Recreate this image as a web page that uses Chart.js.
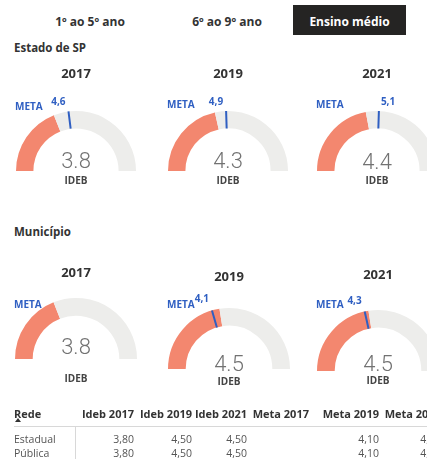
<!DOCTYPE html>
<html lang="pt-BR">
<head>
<meta charset="utf-8">
<title>Ideb - Ensino médio</title>
<script src="https://cdn.jsdelivr.net/npm/chart.js@4.4.1/dist/chart.umd.min.js"></script>
<style>
  html, body { margin: 0; padding: 0; background: #fff; }
  body { width: 427px; height: 459px; position: relative; overflow: hidden; font-family: "Open Sans", "Noto Sans", sans-serif; color: #333; }
  .tab { position: absolute; top: 5px; height: 30px; line-height: 33px; font-size: 12px; font-weight: 700; text-align: center; color: #333; }
  .tab.active { background: #252423; color: #fff; }
  .section { position: absolute; left: 14px; font-size: 11.5px; font-weight: 700; color: #333; }
  canvas.gauge { position: absolute; }
  table.rede { position: absolute; left: 14px; top: 406px; border-collapse: collapse; white-space: nowrap; }
  table.rede th { font-size: 11px; font-weight: 700; color: #333; text-align: right; padding: 0; height: 20px; line-height: 16px; vertical-align: top; }
  table.rede th:first-child { text-align: left; }
  table.rede td { font-size: 10.5px; color: #555; text-align: right; height: 14px; padding: 0; line-height: 14px; }
  table.rede tbody tr:first-child td { padding-top: 5px; }
  table.rede td:first-child { text-align: left; border-right: 1px solid #d8d8d8; }
  table.rede thead tr { border-bottom: 1px solid #d8d8d8; }
  .sort { position: absolute; left: 15px; top: 418px; width: 0; height: 0; border-left: 3px solid transparent; border-right: 3px solid transparent; border-bottom: 4px solid #333; }
</style>
</head>
<body>
<div id="tabs"></div>
<div class="section" style="top:40px">Estado de SP</div>
<div class="section" style="top:224px">Município</div>
<div id="gauges"></div>
<table class="rede" id="tabela"></table>
<div class="sort"></div>

<script>
// escala do Ideb
const scaleMin = 0;
const scaleMax = 10;

const tabs = ['1º ao 5º ano', '6º ao 9º ano', 'Ensino médio'];
const years = ['2017', '2019', '2021'];

const estadoIdeb = [3.8, 4.3, 4.4];
const estadoMeta = [4.6, 4.9, 5.1];
const municipioIdeb = [3.8, 4.5, 4.5];
const municipioMeta = [null, 4.1, 4.3];

const tableHeader = ['Rede', 'Ideb 2017', 'Ideb 2019', 'Ideb 2021', 'Meta 2017', 'Meta 2019', 'Meta 2021'];
const tableRedes = ['Estadual', 'Pública'];
const estadualRow = [3.80, 4.50, 4.50, null, 4.10, 4.30];
const publicaRow = [3.80, 4.50, 4.50, null, 4.10, 4.30];

const colFill = '#f3876f';
const colTrack = '#ededeb';
const colMeta = '#2f5fc2';

// abas
const tabBoxes = [
  { left: 30, width: 120 },
  { left: 167, width: 120 },
  { left: 293, width: 113 }
];
tabs.forEach((t, i) => {
  const el = document.createElement('div');
  el.className = 'tab' + (i === 2 ? ' active' : '');
  el.style.left = tabBoxes[i].left + 'px';
  el.style.width = tabBoxes[i].width + 'px';
  el.textContent = t;
  document.getElementById('tabs').appendChild(el);
});

// posição de cada medidor (centro do arco) e ajustes dos rótulos
const gaugeLayout = [
  { cx: 75.5, cy: 171, r: 60, title: -97, value: -9, ideb: 10, meta: -64 },
  { cx: 228, cy: 171, r: 60, title: -97, value: -9, ideb: 10, meta: -66 },
  { cx: 377, cy: 171, r: 60, title: -97, value: -8, ideb: 10, meta: -66 },
  { cx: 76, cy: 359, r: 61, title: -86, value: -11, ideb: 20, meta: -54 },
  { cx: 229, cy: 369, r: 61, title: -92, value: -4, ideb: 13, meta: -64 },
  { cx: 378, cy: 371, r: 61, title: -96, value: -6, ideb: 10, meta: -66 }
];

const CW = 170, CH = 160, OX = 85, OY = 120;

const gaugeText = {
  id: 'gaugeText',
  afterDraw(chart, args, opts) {
    const ctx = chart.ctx;
    const arc = chart.getDatasetMeta(0).data[0];
    const { x, y, innerRadius, outerRadius } = arc.getProps(['x', 'y', 'innerRadius', 'outerRadius'], true);
    const L = opts.layout;
    ctx.save();
    ctx.textAlign = 'center';
    ctx.textBaseline = 'middle';

    ctx.fillStyle = '#333';
    ctx.font = '700 13px "Open Sans", sans-serif';
    ctx.fillText(opts.year, x, y + L.title);

    ctx.fillStyle = '#727272';
    ctx.font = '300 22px Roboto, "Open Sans", sans-serif';
    ctx.fillText(opts.value.toFixed(1), x, y + L.value);

    ctx.fillStyle = '#444';
    ctx.font = '700 10px "Open Sans", sans-serif';
    ctx.fillText('IDEB', x, y + L.ideb);

    ctx.fillStyle = colMeta;
    ctx.textAlign = 'left';
    ctx.font = '700 10px "Open Sans", sans-serif';
    ctx.fillText('META', x - outerRadius - 1, y + L.meta);

    if (opts.meta != null) {
      const a = Math.PI + (opts.meta - scaleMin) / (scaleMax - scaleMin) * Math.PI;
      const c = Math.cos(a), s = Math.sin(a);
      ctx.strokeStyle = colMeta;
      ctx.lineWidth = 2;
      ctx.beginPath();
      ctx.moveTo(x + c * innerRadius, y + s * innerRadius);
      ctx.lineTo(x + c * outerRadius, y + s * outerRadius);
      ctx.stroke();

      const tx = x + c * outerRadius;
      ctx.textAlign = c < 0 ? 'right' : 'left';
      ctx.fillText(opts.meta.toFixed(1).replace('.', ','), tx + (c < 0 ? -3 : 2), y - outerRadius - 9);
    }
    ctx.restore();
  }
};

const values = estadoIdeb.concat(municipioIdeb);
const metas = estadoMeta.concat(municipioMeta);

values.forEach((v, i) => {
  const L = gaugeLayout[i];
  const canvas = document.createElement('canvas');
  canvas.className = 'gauge';
  canvas.width = CW;
  canvas.height = CH;
  canvas.style.left = (L.cx - OX) + 'px';
  canvas.style.top = (L.cy - OY) + 'px';
  document.getElementById('gauges').appendChild(canvas);

  new Chart(canvas, {
    type: 'doughnut',
    data: {
      labels: ['Ideb', ''],
      datasets: [{
        data: [v - scaleMin, scaleMax - v],
        backgroundColor: [colFill, colTrack],
        borderWidth: 0
      }]
    },
    options: {
      responsive: false,
      animation: false,
      rotation: -90,
      circumference: 180,
      cutout: '71%',
      layout: { padding: { left: OX - L.r, right: CW - OX - L.r, top: OY - L.r, bottom: CH - OY } },
      plugins: {
        legend: { display: false },
        tooltip: { enabled: false },
        gaugeText: { year: years[i % 3], value: v, meta: metas[i], layout: L }
      }
    },
    plugins: [gaugeText]
  });
});

// tabela
const fmt = (n) => n == null ? '' : n.toFixed(2).replace('.', ',');
const colWidths = [61, 59, 58, 55, 62, 70, 62];
let html = '<colgroup>' + colWidths.map(w => '<col style="width:' + w + 'px">').join('') + '</colgroup>';
html += '<thead><tr>' + tableHeader.map(h => '<th>' + h + '</th>').join('') + '</tr></thead><tbody>';
[estadualRow, publicaRow].forEach((row, r) => {
  html += '<tr><td>' + tableRedes[r] + '</td>' + row.map(n => '<td>' + fmt(n) + '</td>').join('') + '</tr>';
});
html += '</tbody>';
const tabela = document.getElementById('tabela');
tabela.style.width = colWidths.reduce((a, b) => a + b, 0) + 'px';
tabela.style.tableLayout = 'fixed';
tabela.innerHTML = html;
</script>
</body>
</html>
